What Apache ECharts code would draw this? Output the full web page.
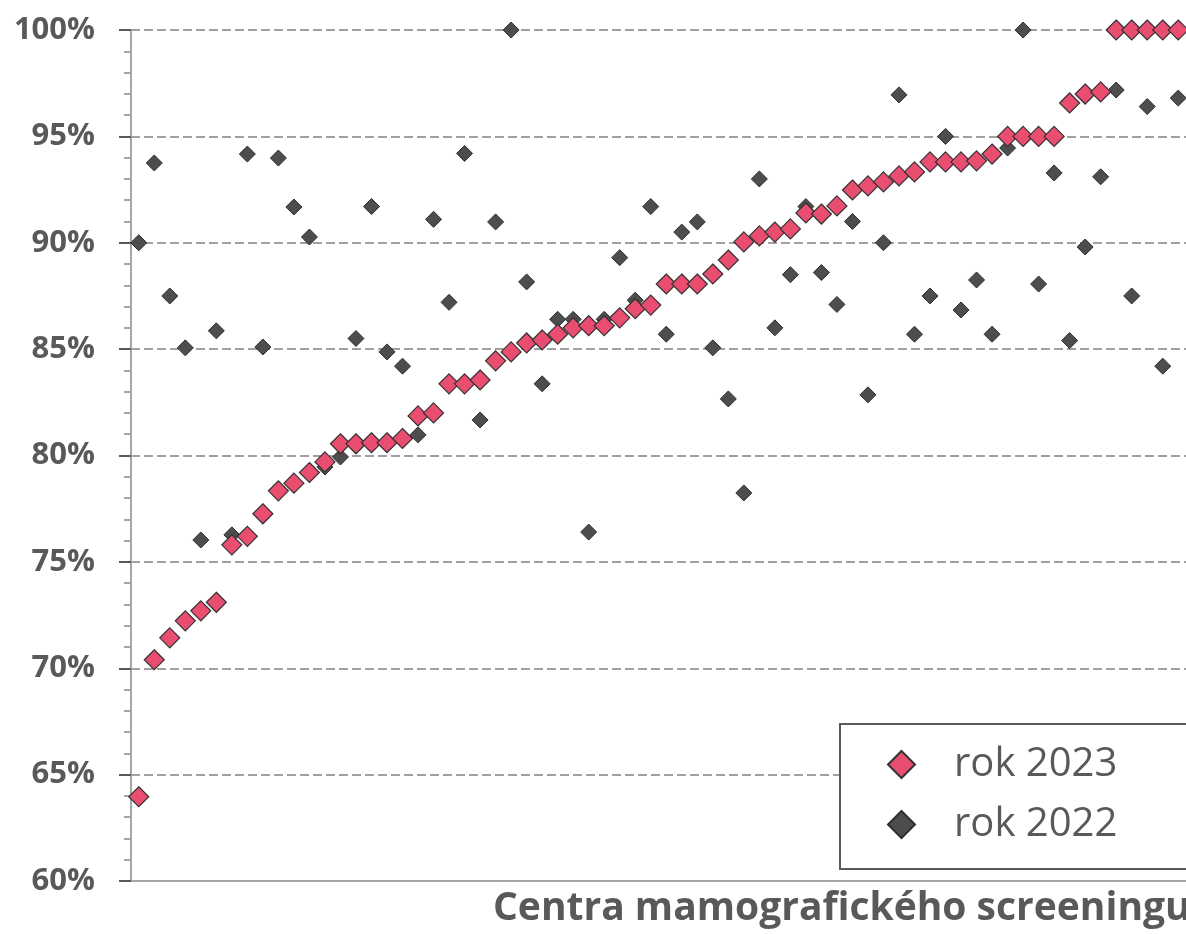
<!DOCTYPE html>
<html>
<head>
<meta charset="utf-8">
<title>Centra mamografického screeningu</title>
<script src="https://cdn.jsdelivr.net/npm/echarts@6/dist/echarts.min.js"></script>
<style>
  html, body { margin: 0; padding: 0; background: #fff; }
  #chart { width: 1186px; height: 934px; }
</style>
</head>
<body>
<div id="chart"></div>
<script>
// values in % per centre, sorted by 2023
const rok2023 = [
  63.96, 70.4, 71.43, 72.23, 72.7, 73.1, 75.8, 76.2, 77.26, 78.34,
  78.7, 79.2, 79.7, 80.55, 80.55, 80.6, 80.6, 80.8, 81.86, 82.0,
  83.37, 83.37, 83.55, 84.45, 84.87, 85.29, 85.43, 85.7, 86.0, 86.1,
  86.1, 86.47, 86.9, 87.07, 88.06, 88.06, 88.06, 88.53, 89.19, 90.04,
  90.32, 90.5, 90.65, 91.4, 91.35, 91.73, 92.48, 92.67, 92.86, 93.14,
  93.33, 93.8, 93.8, 93.8, 93.85, 94.17, 95.0, 95.0, 95.0, 95.0,
  96.57, 96.99, 97.09, 100, 100, 100, 100, 100
]
const rok2022 = [
  90.0, 93.75, 87.5, 85.06, 76.03, 85.86, 76.27, 94.17, 85.1, 93.98,
  91.68, 90.27, 79.46, 79.93, 85.5, 91.7, 84.87, 84.2, 80.97, 91.1,
  87.2, 94.2, 81.67, 90.98, 100, 88.16, 83.37, 86.4, 86.4, 76.4,
  86.4, 89.3, 87.3, 91.7, 85.7, 90.5, 90.98, 85.06, 82.66, 78.24,
  93.0, 86.0, 88.5, 91.7, 88.6, 87.1, 91.0, 82.85, 90.0, 96.95,
  85.7, 87.5, 95.0, 86.84, 88.25, 85.7, 94.45, 100, 88.06, 93.28,
  85.4, 89.8, 93.1, 97.18, 87.5, 96.4, 84.2, 96.8
]
const centra = rok2023.map((v, i) => 'C' + (i + 1))

const chart = echarts.init(document.getElementById('chart'))
const font = '"Open Sans", "Noto Sans", sans-serif'

chart.setOption({
  animation: false,
  backgroundColor: '#fff',
  textStyle: { fontFamily: font },
  title: {
    text: 'Centra mamografického screeningu',
    left: 493,
    top: 889,
    padding: 0,
    textStyle: {
      fontFamily: font,
      fontSize: 39,
      fontWeight: 'bold',
      color: '#595959'
    }
  },
  grid: {
    left: 131,
    width: 1060,
    top: 30,
    bottom: 53
  },
  legend: {
    data: ['rok 2023', 'rok 2022'],
    orient: 'vertical',
    left: 840,
    top: 724,
    padding: [20, 200, 24, 47],
    itemGap: 19,
    itemWidth: 27,
    itemHeight: 27,
    backgroundColor: '#fff',
    borderColor: '#595959',
    borderWidth: 2,
    textStyle: {
      fontFamily: font,
      fontSize: 40,
      lineHeight: 41,
      color: '#595959',
      padding: [0, 0, 0, 34]
    }
  },
  xAxis: {
    type: 'category',
    data: centra,
    boundaryGap: true,
    axisLine: { lineStyle: { color: '#A6A6A6', width: 2 } },
    axisTick: { show: false },
    axisLabel: { show: false },
    splitLine: { show: false }
  },
  yAxis: {
    type: 'value',
    min: 60,
    max: 100,
    interval: 5,
    axisLine: { show: true, lineStyle: { color: '#A6A6A6', width: 2 } },
    axisTick: { show: true, length: 12, lineStyle: { color: '#595959', width: 2 } },
    minorTick: { show: true, splitNumber: 5, length: 7, lineStyle: { color: '#A6A6A6', width: 2 } },
    axisLabel: {
      formatter: '{value}%',
      margin: 36,
      fontFamily: font,
      fontSize: 31,
      fontWeight: 'bold',
      color: '#595959'
    },
    splitLine: {
      show: true,
      lineStyle: { color: '#A0A0A0', width: 2, type: [9, 4] }
    }
  },
  series: [
    {
      name: 'rok 2022',
      type: 'scatter',
      symbol: 'diamond',
      symbolSize: 16,
      data: rok2022,
      itemStyle: { color: '#4D4D4D', borderColor: '#2E2E2E', borderWidth: 1, opacity: 1 },
      z: 2
    },
    {
      name: 'rok 2023',
      type: 'scatter',
      symbol: 'diamond',
      symbolSize: 20,
      data: rok2023,
      itemStyle: { color: '#E94D70', borderColor: '#333', borderWidth: 1.2, opacity: 1 },
      z: 3
    }
  ]
})
</script>
</body>
</html>
